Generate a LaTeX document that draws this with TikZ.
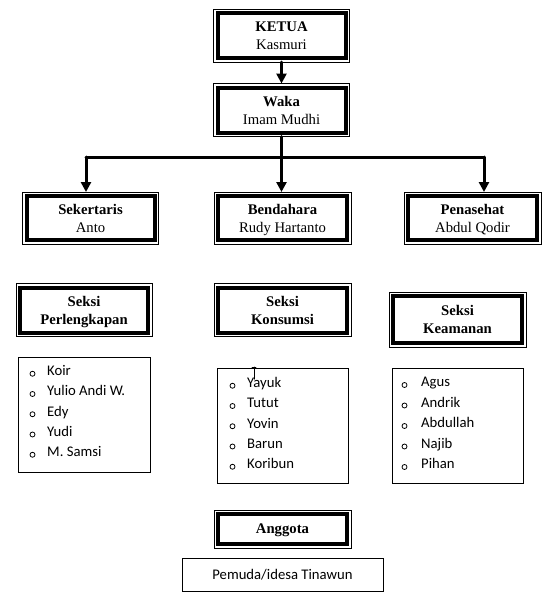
\documentclass[tikz,border=0pt]{standalone}
\usepackage{fontspec}
\setmainfont{Liberation Serif}
\newfontfamily\calibri{Carlito}
\usetikzlibrary{arrows.meta}

\tikzset{
  jabatan/.style={draw, line width=4pt, line join=miter, minimum width=128pt, minimum height=45pt,
    inner sep=2pt, outer sep=4pt, align=center, text depth=0pt, font=\fontsize{14.7}{18}\selectfont},
  bingkai/.style={line width=1pt, line join=miter},
  daftar/.style={draw, line width=1pt, line join=miter, minimum width=131pt, minimum height=115pt, outer sep=0pt},
  isi/.style={anchor=west, inner sep=0pt, text height=1.5ex, text depth=.25ex,
    font=\calibri\fontsize{14.7}{18}\selectfont},
  panah/.style={line width=3pt, ->}
}

\begin{document}
\begin{tikzpicture}[line cap=round,line join=round,>={Triangle[width=10pt,length=10pt]},x=1pt,y=-1pt]

\useasboundingbox (0,0) rectangle (550,600);

\node[jabatan] (ketua) at (281.5,35.5) {\textbf{KETUA}\\Kasmuri};
\node[jabatan] (waka) at (281.5,110) {\textbf{Waka}\\Imam Mudhi};
\node[jabatan, minimum height=44pt] (sekertaris) at (90.5,218) {\textbf{Sekertaris}\\Anto};
\node[jabatan, minimum height=44pt, minimum width=129pt] (bendahara) at (282.5,218) {\textbf{Bendahara}\\Rudy Hartanto};
\node[jabatan, minimum height=44pt, minimum width=129pt] (penasehat) at (472.5,218) {\textbf{Penasehat}\\Abdul Qodir};
\node[jabatan, font=\bfseries\fontsize{14.7}{18}\selectfont] (perlengkapan) at (84,310) {Seksi\\Perlengkapan};
\node[jabatan, minimum width=129pt, font=\bfseries\fontsize{14.7}{18}\selectfont] (konsumsi) at (282.5,310) {Seksi\\Konsumsi};
\node[jabatan, minimum width=129pt, minimum height=47pt, font=\bfseries\fontsize{14.7}{18}\selectfont] (keamanan) at (457.5,319.5) {Seksi\\Keamanan};
\node[jabatan, minimum width=129pt, minimum height=30pt] (anggota) at (282.5,529) {\textbf{Anggota}};

\foreach \n in {ketua,waka,sekertaris,bendahara,penasehat,perlengkapan,konsumsi,keamanan,anggota}
  \draw[bingkai] (\n.north west) rectangle (\n.south east);

\coordinate (cabang) at (281.5,157);
\coordinate (kiri) at (86,157);
\coordinate (kanan) at (484,157);
\draw[panah] (ketua.south) -- (waka.north);
\draw[line width=3pt] (waka.south) -- (cabang);
\draw[line width=3pt] (kiri) -- (kanan);
\draw[panah] (kiri) -- (kiri |- sekertaris.north);
\draw[panah] (cabang) -- (cabang |- bendahara.north);
\draw[panah] (kanan) -- (kanan |- penasehat.north);

\node[daftar, minimum width=132pt] (dperl) at (84,414.5) {};
\node[daftar] (dkons) at (282.5,425.5) {};
\node[daftar] (dkeam) at (457.5,425.5) {};

\foreach \nama [count=\i] in {Koir, Yulio Andi W., Edy, Yudi, M. Samsi} {
  \node[isi] (perl-\i) at (47,{352.5+20.25*\i}) {\nama};
  \draw[line width=0.8pt] ([xshift=-14.5pt,yshift=-1pt]perl-\i.west) circle (2.5pt);
}
\foreach \nama [count=\i] in {Yayuk, Tutut, Yovin, Barun, Koribun} {
  \node[isi] (kons-\i) at (247,{364.5+20.25*\i}) {\nama};
  \draw[line width=0.8pt] ([xshift=-14.5pt,yshift=-1pt]kons-\i.west) circle (2.5pt);
}
\foreach \nama [count=\i] in {Agus, Andrik, Abdullah, Najib, Pihan} {
  \node[isi] (keam-\i) at (421,{363.5+20.5*\i}) {\nama};
  \draw[line width=0.8pt] ([xshift=-16.5pt,yshift=-1pt]keam-\i.west) circle (2.5pt);
}
\draw[line width=1pt] (254,367) -- (254,379);
\draw[line width=0.8pt] (252,367) -- (256,367);

\node[daftar, minimum width=201pt, minimum height=33pt, font=\calibri\fontsize{14.7}{18}\selectfont] (pemuda) at (282.5,574.5) {Pemuda/idesa Tinawun};

\end{tikzpicture}
\end{document}
